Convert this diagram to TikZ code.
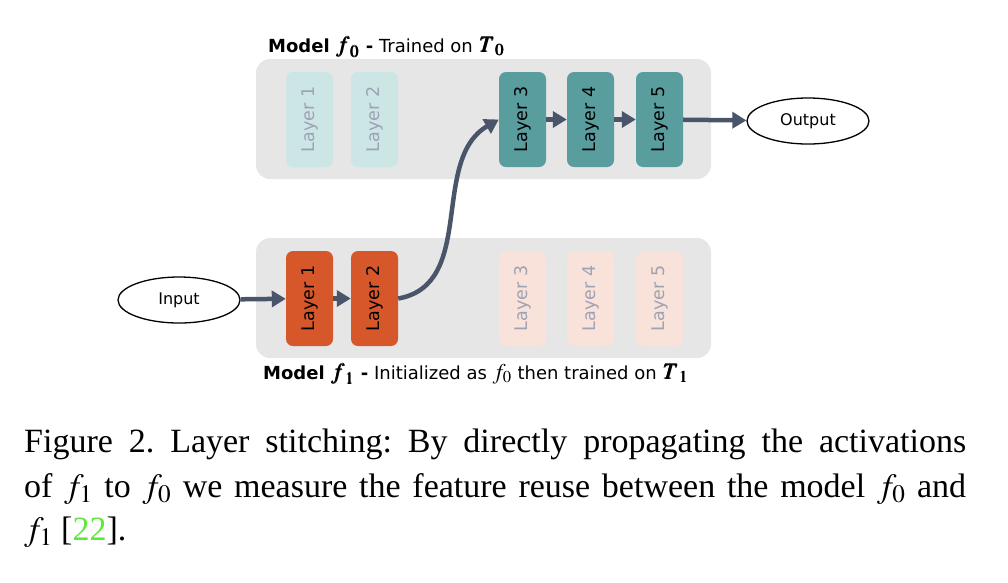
\documentclass[tikz,border=0pt]{standalone}
\usepackage{mathptmx}
\usepackage{fontspec}
\usepackage{bm}
\setmainfont{Liberation Serif}
\newfontfamily\diagfont{DejaVu Sans}
\usetikzlibrary{arrows.meta,shapes.geometric}

\definecolor{panelgrey}{HTML}{E6E6E6}
\definecolor{slate}{HTML}{4A5569}
\definecolor{rust}{HTML}{D5572A}
\definecolor{tealdark}{HTML}{5A9D9F}
\definecolor{tealfaint}{HTML}{CCE5E5}
\definecolor{rustfaint}{HTML}{F9E2D9}
\definecolor{fainttext}{HTML}{9DA2B4}
\definecolor{citegreen}{HTML}{5FE83C}

\newcommand{\mathlbl}[1]{\scalebox{1.25}{$#1$}}

\begin{document}
\begin{tikzpicture}[x=1pt,y=-1pt,
    % Styles
    panel/.style={fill=panelgrey, rounded corners=14pt, minimum width=455pt, minimum height=120pt, inner sep=0pt},
    layer/.style={rounded corners=7pt, minimum width=47pt, minimum height=95pt, inner sep=0pt,
                  font=\diagfont\fontsize{17.5}{17.5}\selectfont},
    tealbox/.style={layer, fill=tealdark, text=black},      % layers of f0 in use
    rustbox/.style={layer, fill=rust, text=black},          % layers of f1 in use
    tealfade/.style={layer, fill=tealfaint, text=fainttext},% unused layers of f0
    rustfade/.style={layer, fill=rustfaint, text=fainttext},% unused layers of f1
    io/.style={ellipse, draw=black, line width=1.3pt, minimum width=122pt, minimum height=46pt,
               font=\diagfont\fontsize{16}{16}\selectfont},
    flow/.style={slate, line width=4.5pt, -{Triangle[length=14pt,width=16pt]}},
    label/.style={anchor=base west, inner sep=0pt, font=\diagfont\fontsize{18}{18}\selectfont},
    caption/.style={anchor=base west, inner sep=0pt, font=\fontsize{34}{44}\selectfont\frenchspacing}
]
  \useasboundingbox (0,0) rectangle (1008,582);

  % Panels of the two models
  \node[panel] (box0) at (483.5,119) {};
  \node[panel] (box1) at (483.5,298) {};
  \node[label] (title0) at (268,52) {\textbf{Model \mathlbl{\bm{f_0}} -} Trained on \mathlbl{\bm{T_0}}};
  \node[label] (title1) at (263,379) {\textbf{Model \mathlbl{\bm{f_1}} -} Initialized as \mathlbl{f_0} then trained on \mathlbl{\bm{T_1}}};

  % Model f0 (top)
  \foreach \i/\x in {1/309.5, 2/374.5}
    \node[tealfade] (t\i) at (\x,119.5) {\rotatebox{90}{Layer \i}};
  \foreach \i/\x in {3/522.5, 4/590.5, 5/659.5}
    \node[tealbox] (t\i) at (\x,119.5) {\rotatebox{90}{Layer \i}};

  % Model f1 (bottom)
  \foreach \i/\x in {1/309.5, 2/374.5}
    \node[rustbox] (s\i) at (\x,298.5) {\rotatebox{90}{Layer \i}};
  \foreach \i/\x in {3/522.5, 4/590.5, 5/659.5}
    \node[rustfade] (s\i) at (\x,298.5) {\rotatebox{90}{Layer \i}};

  % Input and output
  \node[io] (inp) at (179,300) {Input};
  \node[io] (out) at (808,121) {Output};

  % Activations
  \draw[flow] (inp) -- (s1);
  \draw[flow] (s1) -- (s2);
  \draw[flow] (s2.east) to[out=10,in=210] (t3.west);
  \draw[flow] (t3) -- (t4);
  \draw[flow] (t4) -- (t5);
  \draw[flow] (t5) -- (out);

  % Caption
  \node[caption] (cap1) at (24,452) {\makebox[942pt][s]{Figure 2. Layer stitching: By directly propagating the activations}};
  \node[caption] (cap2) at (24,497) {\makebox[942pt][s]{of $f_1$ to $f_0$ we measure the feature reuse between the model $f_0$ and}};
  \node[caption] (cap3) at (24,540) {$f_1$ [\textcolor{citegreen}{22}].};
\end{tikzpicture}
\end{document}
